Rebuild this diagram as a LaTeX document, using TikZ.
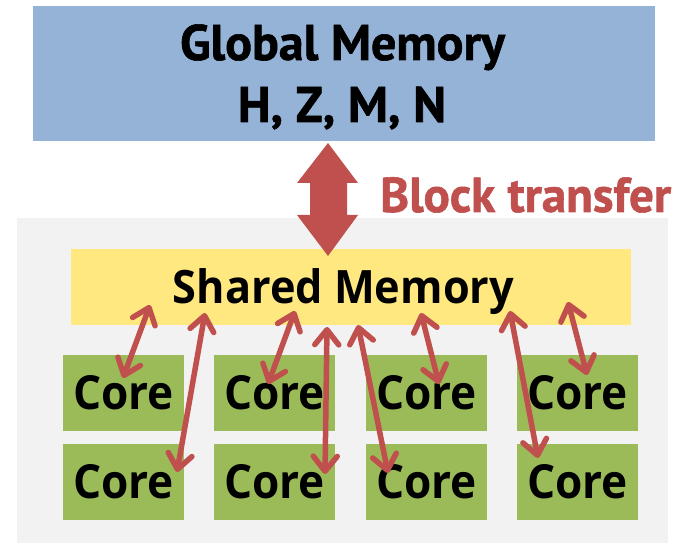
\documentclass[tikz,border=0pt]{standalone}
\usepackage{fontspec}
\usetikzlibrary{arrows.meta}
\newfontfamily\opensans[FakeStretch=0.94]{Open Sans}
\newfontfamily\ptsans[FakeBold=1.2]{PT Sans}
\definecolor{gblue}{HTML}{95B3D7}
\definecolor{syellow}{HTML}{FFE880}
\definecolor{cgreen}{HTML}{9BBB59}
\definecolor{bggray}{HTML}{F2F2F2}
\definecolor{xred}{HTML}{C0504D}
\begin{document}
\begin{tikzpicture}[x=1pt,y=-1pt,
  box/.style={rectangle,inner sep=0pt,draw=none},
  corebox/.style={box,fill=cgreen,minimum width=121pt,minimum height=76pt,
    font=\opensans\bfseries\fontsize{47}{50}\selectfont},
  link/.style={draw=xred,line width=5.5pt,line cap=round,
    {Straight Barb[length=15pt,width=24pt,round]}-{Straight Barb[length=15pt,width=24pt,round]}},
  ttl/.style={inner sep=0pt,anchor=base}]
\useasboundingbox (0,0) rectangle (678,545);
% gray background
\fill[bggray] (17,218) rectangle (668,543);
% global memory
\node[box,fill=gblue,minimum width=622pt,minimum height=135pt] (gm) at (344,73.5) {};
\node[ttl,font=\ptsans\bfseries\fontsize{50}{54}\selectfont] (gmt1) at (342.5,60) {Global Memory};
\node[ttl,font=\ptsans\bfseries\fontsize{50}{54}\selectfont] (gmt2) at (342,122) {H, Z, M, N};
% shared memory
\node[box,fill=syellow,minimum width=560pt,minimum height=76pt] (sm) at (351,287) {};
\node[ttl,font=\opensans\bfseries\fontsize{46}{50}\selectfont] (smt) at (343.5,304) {Shared Memory};
% block transfer arrow
\fill[xred] (328,143) -- (358,183) -- (347,183) -- (347,215) -- (358,215) -- (328,256)
  -- (297,215) -- (310,215) -- (310,183) -- (297,183) -- cycle;
\node[ttl,text=xred,font=\ptsans\bfseries\fontsize{49}{54}\selectfont,anchor=base west] (bt) at (380,212) {Block transfer};
% cores
\foreach \c/\x in {1/123.5,2/274.5,3/426.5,4/577.5}{
  \node[corebox] (c1\c) at (\x,393) {Core};
  \node[corebox] (c2\c) at (\x,482) {Core};
}
% small arrow endpoints
\coordinate (s1) at (150,305); \coordinate (k1) at (123,378);
\coordinate (s2) at (205,313); \coordinate (k2) at (177,472);
\coordinate (s3) at (295,311); \coordinate (k3) at (268,384);
\coordinate (s4) at (327,327); \coordinate (k4) at (325,474);
\coordinate (s5) at (358,325); \coordinate (k5) at (388,473);
\coordinate (s6) at (421,313); \coordinate (k6) at (439,384);
\coordinate (s7) at (510,311); \coordinate (k7) at (538,458);
\coordinate (s8) at (568,302); \coordinate (k8) at (587,375);
\foreach \i in {1,...,8}{
  \draw[link] (s\i) -- (k\i);
}
\end{tikzpicture}
\end{document}
